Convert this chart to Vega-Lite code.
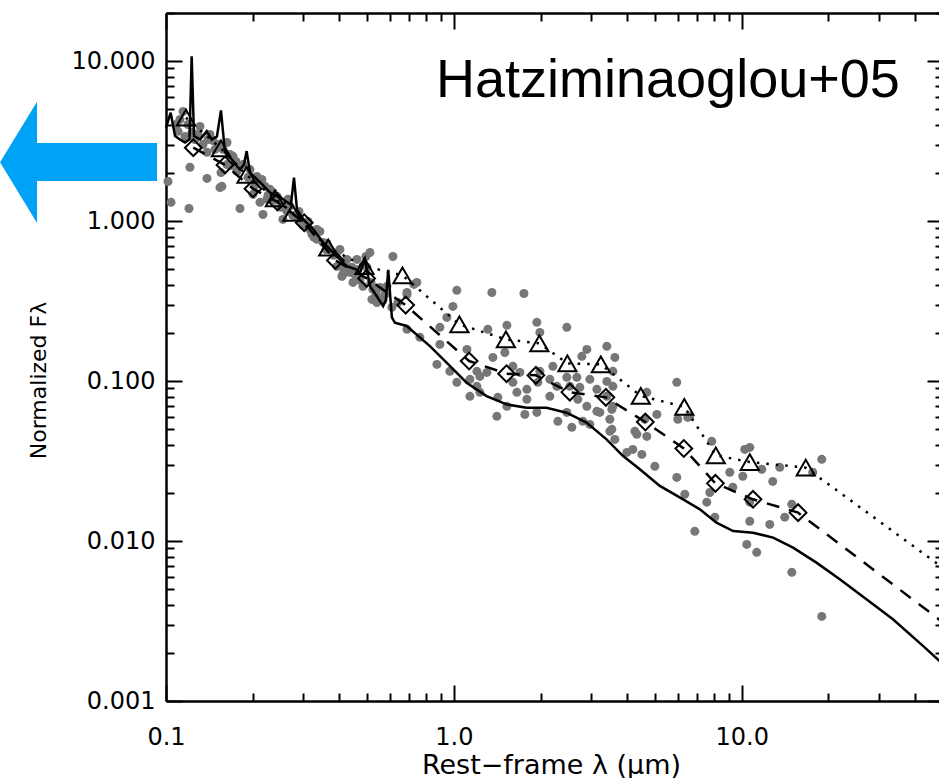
{
  "$schema": "https://vega.github.io/schema/vega-lite/v6.json",
  "width": 777,
  "height": 688,
  "autosize": {"type": "none"},
  "padding": {"left": 166, "top": 13, "right": 0, "bottom": 77},
  "background": "white",
  "config": {
    "view": {"stroke": null},
    "axis": {
      "domainColor": "black", "domainWidth": 2.5, "tickColor": "black", "tickWidth": 2,
      "grid": false, "labelFont": "DejaVu Sans", "labelFontSize": 24, "labelColor": "black",
      "labelFlush": false, "labelOverlap": false, "labelBound": false,
      "titleFont": "DejaVu Sans", "titleFontWeight": "normal", "titleColor": "black"
    }
  },
  "datasets": {
    "dots": [
      {"x":0.1146,"y":4.85},{"x":0.1118,"y":4.32},{"x":0.1192,"y":4.02},{"x":0.1312,"y":3.91},{"x":0.1421,"y":3.48},
      {"x":0.1456,"y":3.19},{"x":0.1388,"y":2.69},{"x":0.1211,"y":2.17},{"x":0.1552,"y":2.01},{"x":0.154,"y":1.62},
      {"x":0.1807,"y":1.20},{"x":0.1202,"y":1.20},{"x":0.1016,"y":1.77},{"x":0.1041,"y":1.31},{"x":0.2172,"y":1.10},
      {"x":0.2547,"y":1.025},{"x":0.1709,"y":2.54},{"x":0.1629,"y":2.26},{"x":0.2154,"y":1.82},{"x":0.2005,"y":1.47},
      {"x":0.2242,"y":1.37},{"x":0.2121,"y":1.31},{"x":0.1388,"y":1.85},{"x":0.1564,"y":1.65},{"x":0.1629,"y":3.10},
      {"x":0.1764,"y":2.05},{"x":0.207,"y":1.90},{"x":0.2297,"y":1.58},{"x":0.2429,"y":1.43},{"x":0.1083,"y":4.02},
      {"x":0.1261,"y":3.24},{"x":0.148,"y":2.81},{"x":0.1694,"y":2.23},{"x":0.1927,"y":1.88},{"x":0.2037,"y":1.67},
      {"x":0.2353,"y":1.51},{"x":0.2569,"y":1.25},{"x":0.2696,"y":1.24},{"x":0.2828,"y":1.085},{"x":0.2919,"y":1.025},
      {"x":0.3162,"y":0.887},{"x":0.3344,"y":0.769},{"x":0.3509,"y":0.736},{"x":0.3711,"y":0.665},{"x":0.3925,"y":0.637},
      {"x":0.3925,"y":0.521},{"x":0.4084,"y":0.451},{"x":0.4355,"y":0.478},{"x":0.4461,"y":0.414},{"x":0.4831,"y":0.391},
      {"x":0.5109,"y":0.637},{"x":0.4948,"y":0.601},{"x":0.614,"y":0.601},{"x":0.5233,"y":0.374},{"x":0.5192,"y":0.324},
      {"x":0.5404,"y":0.310},{"x":0.6871,"y":0.358},{"x":0.7436,"y":0.414},{"x":0.4251,"y":0.576},{"x":0.3344,"y":0.887},
      {"x":0.4605,"y":0.576},{"x":0.3213,"y":0.826},{"x":0.3594,"y":0.665},{"x":0.4183,"y":0.536},{"x":0.4642,"y":0.499},
      {"x":0.5535,"y":0.385},{"x":0.5761,"y":0.348},{"x":0.3038,"y":0.954},{"x":0.2632,"y":1.15},{"x":0.6871,"y":0.348},
      {"x":1.024,"y":0.369},{"x":0.992,"y":0.293},{"x":0.9456,"y":0.250},{"x":0.6871,"y":0.2105},{"x":0.7616,"y":0.1876},
      {"x":0.894,"y":0.1696},{"x":0.873,"y":0.1271},{"x":0.9685,"y":0.115},{"x":1.11,"y":0.1578},{"x":1.137,"y":0.0803},
      {"x":1.231,"y":0.107},{"x":1.202,"y":0.0927},{"x":0.5535,"y":0.324},{"x":0.4117,"y":0.4645},{"x":1.355,"y":0.358},
      {"x":1.751,"y":0.353},{"x":0.7263,"y":0.402},{"x":0.894,"y":0.2167},{"x":1.312,"y":0.2105},{"x":1.528,"y":0.223},
      {"x":1.942,"y":0.233},{"x":1.989,"y":0.2015},{"x":2.468,"y":0.2167},{"x":2.896,"y":0.1578},{"x":3.398,"y":0.1648},
      {"x":3.624,"y":0.1406},{"x":1.503,"y":0.151},{"x":1.603,"y":0.1236},{"x":1.366,"y":0.1406},{"x":1.302,"y":0.1133},
      {"x":1.202,"y":0.115},{"x":1.231,"y":0.0850},{"x":1.024,"y":0.0982},{"x":1.137,"y":0.1025},{"x":1.421,"y":0.0791},
      {"x":1.528,"y":0.0695},{"x":1.41,"y":0.0602},{"x":1.793,"y":0.0769},{"x":1.655,"y":0.0850},{"x":1.942,"y":0.0637},
      {"x":2.154,"y":0.0803},{"x":2.279,"y":0.0927},{"x":2.154,"y":0.1025},{"x":1.957,"y":0.0982},{"x":1.793,"y":0.0888},
      {"x":1.603,"y":0.0982},{"x":1.695,"y":0.1133},{"x":1.989,"y":0.115},{"x":2.207,"y":0.1236},{"x":2.674,"y":0.1055},
      {"x":2.468,"y":0.1055},{"x":2.738,"y":0.0914},{"x":2.967,"y":0.1025},{"x":3.138,"y":0.0888},{"x":3.566,"y":0.0927},
      {"x":3.398,"y":0.0803},{"x":3.566,"y":0.115},{"x":3.138,"y":0.0647},{"x":2.896,"y":0.0695},{"x":2.695,"y":0.0769},
      {"x":2.468,"y":0.0637},{"x":2.297,"y":0.056},{"x":2.569,"y":0.0514},{"x":2.805,"y":0.056},{"x":2.967,"y":0.0536},
      {"x":3.481,"y":0.0577},{"x":3.481,"y":0.0485},{"x":3.624,"y":0.0432},{"x":3.988,"y":0.0358},{"x":4.253,"y":0.0485},
      {"x":4.605,"y":0.0577},{"x":4.679,"y":0.0451},{"x":5.07,"y":0.0619},{"x":5.946,"y":0.0982},{"x":3.566,"y":0.0695},
      {"x":6.597,"y":0.0602},{"x":1.764,"y":0.0619},{"x":2.528,"y":0.0927},{"x":2.783,"y":0.1427},{"x":3.213,"y":0.0637},
      {"x":3.398,"y":0.0995},{"x":3.537,"y":0.0665},{"x":3.537,"y":0.0499},{"x":4.184,"y":0.0374},{"x":4.496,"y":0.0348},
      {"x":4.32,"y":0.0465},{"x":4.679,"y":0.0850},{"x":4.989,"y":0.0293},{"x":5.995,"y":0.0577},{"x":6.494,"y":0.0593},
      {"x":5.946,"y":0.025},{"x":6.34,"y":0.0196},{"x":6.869,"y":0.0115},{"x":7.557,"y":0.0175},{"x":7.865,"y":0.042},
      {"x":7.743,"y":0.0201},{"x":8.059,"y":0.0141},{"x":9.085,"y":0.0269},{"x":9.307,"y":0.0217},{"x":10.08,"y":0.0254},
      {"x":10.24,"y":0.0374},{"x":10.66,"y":0.0385},{"x":11.73,"y":0.0281},{"x":12.81,"y":0.0236},{"x":13.55,"y":0.0289},
      {"x":10.41,"y":0.00953},{"x":11.27,"y":0.0085},{"x":10.66,"y":0.0133},{"x":12.51,"y":0.0127},{"x":14.1,"y":0.0141},
      {"x":14.92,"y":0.017},{"x":14.92,"y":0.00637},{"x":18.96,"y":0.00338},{"x":18.96,"y":0.0324},{"x":17.64,"y":0.0269},
      {"x":10.66,"y":0.0175},
      {"x":0.1101,"y":3.64},{"x":0.1164,"y":3.38},{"x":0.1231,"y":3.58},{"x":0.1292,"y":3.48},{"x":0.1344,"y":3.01},
      {"x":0.1399,"y":3.24},{"x":0.1516,"y":3.01},{"x":0.1577,"y":2.81},{"x":0.1668,"y":2.61},{"x":0.175,"y":2.36},
      {"x":0.1851,"y":2.26},{"x":0.1958,"y":2.10},{"x":0.2087,"y":1.77},{"x":0.2207,"y":1.65},{"x":0.2261,"y":1.45},
      {"x":0.239,"y":1.35},{"x":0.2507,"y":1.22},{"x":0.2652,"y":1.37},{"x":0.2761,"y":1.085},{"x":0.2896,"y":1.15},
      {"x":0.2990,"y":0.940},{"x":0.3112,"y":0.996},{"x":0.3266,"y":0.791},{"x":0.3424,"y":0.862},{"x":0.3623,"y":0.726},
      {"x":0.3831,"y":0.611},{"x":0.4018,"y":0.665},{"x":0.415,"y":0.499},{"x":0.4424,"y":0.514},{"x":0.4532,"y":0.4645},
      {"x":0.4717,"y":0.426},{"x":0.4988,"y":0.514},{"x":0.5151,"y":0.414},{"x":0.5361,"y":0.353},{"x":0.567,"y":0.319},
      {"x":0.5854,"y":0.391},{"x":0.609,"y":0.289},{"x":0.6392,"y":0.310}
    ],
    "solid": [
      {"x":0.1,"y":3.84},{"x":0.1038,"y":4.76},{"x":0.1075,"y":3.40},{"x":0.1118,"y":3.24},{"x":0.1164,"y":3.10},
      {"x":0.1207,"y":3.24},{"x":0.1228,"y":10.74},{"x":0.1251,"y":3.40},{"x":0.1313,"y":3.24},{"x":0.1385,"y":3.65},
      {"x":0.1441,"y":3.24},{"x":0.1503,"y":3.38},{"x":0.1552,"y":4.92},{"x":0.1603,"y":2.69},{"x":0.169,"y":2.43},
      {"x":0.1807,"y":2.10},{"x":0.1866,"y":2.26},{"x":0.1906,"y":2.74},{"x":0.1958,"y":2.01},{"x":0.2121,"y":1.75},
      {"x":0.2297,"y":1.51},{"x":0.2547,"y":1.37},{"x":0.2716,"y":1.27},{"x":0.2783,"y":1.87},{"x":0.2851,"y":1.18},
      {"x":0.2997,"y":1.025},{"x":0.3248,"y":0.888},{"x":0.3517,"y":0.733},{"x":0.381,"y":0.635},{"x":0.4018,"y":0.576},
      {"x":0.4241,"y":0.523},{"x":0.457,"y":0.499},{"x":0.4717,"y":0.476},{"x":0.491,"y":0.576},{"x":0.5109,"y":0.393},
      {"x":0.539,"y":0.34},{"x":0.568,"y":0.294},{"x":0.5808,"y":0.324},{"x":0.5914,"y":0.495},{"x":0.609,"y":0.25},
      {"x":0.6237,"y":0.232},{"x":0.6854,"y":0.221},{"x":0.8255,"y":0.1655},{"x":0.9434,"y":0.1303},{"x":1.107,"y":0.0977},
      {"x":1.299,"y":0.0806},{"x":1.524,"y":0.0715},{"x":1.788,"y":0.0682},{"x":2.098,"y":0.0682},{"x":2.462,"y":0.0634},
      {"x":2.889,"y":0.055},{"x":3.39,"y":0.0432},{"x":3.871,"y":0.034},{"x":4.424,"y":0.0281},{"x":5.193,"y":0.0221},
      {"x":6.255,"y":0.01823},{"x":7.149,"y":0.01578},{"x":8.17,"y":0.01303},{"x":9.333,"y":0.01155},{"x":10.94,"y":0.01128},
      {"x":12.85,"y":0.0105},{"x":15.07,"y":0.0091},{"x":18.17,"y":0.00733},{"x":21.9,"y":0.00577},{"x":27.1,"y":0.00432},
      {"x":33.5,"y":0.00324},{"x":42.6,"y":0.00221},{"x":50,"y":0.0017}
    ],
    "dashed": [
      {"x":0.1244,"y":2.877,"m":1},{"x":0.1603,"y":2.245,"m":1},{"x":0.2005,"y":1.594,"m":1},{"x":0.2438,"y":1.318,"m":1},
      {"x":0.3021,"y":0.977,"m":1},{"x":0.3877,"y":0.568,"m":1},{"x":0.4977,"y":0.4385,"m":1},{"x":0.6799,"y":0.2985,"m":1},
      {"x":1.130,"y":0.1334,"m":1},{"x":1.524,"y":0.1112,"m":1},{"x":1.927,"y":0.1086,"m":1},{"x":2.528,"y":0.0853,"m":1},
      {"x":3.372,"y":0.0791,"m":1},{"x":4.623,"y":0.0555,"m":1},{"x":6.29,"y":0.0379,"m":1},{"x":8.10,"y":0.02294,"m":1},
      {"x":10.94,"y":0.01823,"m":1},{"x":15.69,"y":0.01505,"m":1},{"x":50,"y":0.0031,"m":0}
    ],
    "dotted": [
      {"x":0.1173,"y":4.43,"m":1},{"x":0.1552,"y":2.845,"m":1},{"x":0.1904,"y":1.945,"m":1},{"x":0.2390,"y":1.387,"m":1},
      {"x":0.2749,"y":1.125,"m":1},{"x":0.366,"y":0.682,"m":1},{"x":0.4890,"y":0.5236,"m":1},{"x":0.6627,"y":0.458,"m":1},
      {"x":1.045,"y":0.2262,"m":1},{"x":1.516,"y":0.1823,"m":1},{"x":1.981,"y":0.172,"m":1},{"x":2.479,"y":0.129,"m":1},
      {"x":3.239,"y":0.1271,"m":1},{"x":4.459,"y":0.0808,"m":1},{"x":6.314,"y":0.069,"m":1},{"x":8.122,"y":0.03434,"m":1},
      {"x":10.66,"y":0.03119,"m":1},{"x":16.68,"y":0.02875,"m":1},{"x":50,"y":0.0068,"m":0}
    ],
    "label": [{"x":35.4,"y":6.0,"t":"Hatziminaoglou+05"}],
    "arrow": [{"x":0.04968,"y":2.33}]
  },
  "resolve": {"axis": {"x": "independent", "y": "independent"}},
  "layer": [
    {
      "data": {"name": "dots"},
      "mark": {"type": "point", "shape": "circle", "filled": true, "size": 81, "color": "#777777", "opacity": 1, "strokeWidth": 0},
      "encoding": {
        "x": {"field": "x", "type": "quantitative",
          "scale": {"type": "log", "domain": [0.1, 50], "nice": false},
          "axis": {"orient": "bottom",
            "values": [0.1,0.2,0.3,0.4,0.5,0.6,0.7,0.8,0.9,1,2,3,4,5,6,7,8,9,10,20,30,40,50],
            "labelExpr": "datum.value == 0.1 ? '0.1' : datum.value == 1 ? '1.0' : datum.value == 10 ? '10.0' : ''",
            "tickSize": {"condition": {"test": "datum.value == 0.1 || datum.value == 1 || datum.value == 10", "value": -16}, "value": -8},
            "labelPadding": 40, "labelAlign": "center", "labelBaseline": "top",
            "title": "Rest−frame λ (μm)", "titleFontSize": 27, "titleX": 385, "titleY": 72,
            "titleAlign": "center", "titleBaseline": "alphabetic"}},
        "y": {"field": "y", "type": "quantitative",
          "scale": {"type": "log", "domain": [0.001, 20], "nice": false},
          "axis": {"orient": "left",
            "values": [0.001,0.002,0.003,0.004,0.005,0.006,0.007,0.008,0.009,0.01,0.02,0.03,0.04,0.05,0.06,0.07,0.08,0.09,0.1,0.2,0.3,0.4,0.5,0.6,0.7,0.8,0.9,1,2,3,4,5,6,7,8,9,10,20],
            "labelExpr": "datum.value == 0.001 ? '0.001' : datum.value == 0.01 ? '0.010' : datum.value == 0.1 ? '0.100' : datum.value == 1 ? '1.000' : datum.value == 10 ? '10.000' : ''",
            "tickSize": {"condition": {"test": "datum.value == 0.001 || datum.value == 0.01 || datum.value == 0.1 || datum.value == 1 || datum.value == 10", "value": -16}, "value": -8},
            "labelPadding": 27, "labelAlign": "right", "labelBaseline": "middle",
            "title": "Normalized Fλ", "titleFontSize": 22, "titleAngle": 270, "titleX": -121, "titleY": 367,
            "titleAlign": "center", "titleBaseline": "alphabetic"}}
      }
    },
    {
      "data": {"name": "solid"},
      "mark": {"type": "line", "color": "black", "strokeWidth": 2.5, "interpolate": "linear"},
      "encoding": {
        "x": {"field": "x", "type": "quantitative",
          "scale": {"type": "log", "domain": [0.1, 50], "nice": false},
          "axis": {"orient": "top",
            "values": [0.1,0.2,0.3,0.4,0.5,0.6,0.7,0.8,0.9,1,2,3,4,5,6,7,8,9,10,20,30,40,50],
            "labels": false, "title": null,
            "tickSize": {"condition": {"test": "datum.value == 0.1 || datum.value == 1 || datum.value == 10", "value": -16}, "value": -8}}},
        "y": {"field": "y", "type": "quantitative",
          "scale": {"type": "log", "domain": [0.001, 20], "nice": false},
          "axis": {"orient": "right",
            "values": [0.001,0.002,0.003,0.004,0.005,0.006,0.007,0.008,0.009,0.01,0.02,0.03,0.04,0.05,0.06,0.07,0.08,0.09,0.1,0.2,0.3,0.4,0.5,0.6,0.7,0.8,0.9,1,2,3,4,5,6,7,8,9,10,20],
            "labels": false, "title": null,
            "tickSize": {"condition": {"test": "datum.value == 0.001 || datum.value == 0.01 || datum.value == 0.1 || datum.value == 1 || datum.value == 10", "value": -16}, "value": -8}}},
        "order": {"field": "x", "type": "quantitative"}
      }
    },
    {
      "data": {"name": "dashed"},
      "mark": {"type": "line", "color": "black", "strokeWidth": 2.5, "strokeDash": [13, 10]},
      "encoding": {
        "x": {"field": "x", "type": "quantitative", "scale": {"type": "log", "domain": [0.1, 50], "nice": false}, "axis": null},
        "y": {"field": "y", "type": "quantitative", "scale": {"type": "log", "domain": [0.001, 20], "nice": false}, "axis": null},
        "order": {"field": "x", "type": "quantitative"}
      }
    },
    {
      "data": {"name": "dotted"},
      "mark": {"type": "line", "color": "black", "strokeWidth": 2.5, "strokeDash": [2.5, 7]},
      "encoding": {
        "x": {"field": "x", "type": "quantitative", "scale": {"type": "log", "domain": [0.1, 50], "nice": false}, "axis": null},
        "y": {"field": "y", "type": "quantitative", "scale": {"type": "log", "domain": [0.001, 20], "nice": false}, "axis": null},
        "order": {"field": "x", "type": "quantitative"}
      }
    },
    {
      "data": {"name": "dashed"},
      "transform": [{"filter": "datum.m == 1"}],
      "mark": {"type": "point", "shape": "diamond", "filled": false, "size": 280, "color": "black", "strokeWidth": 2, "opacity": 1},
      "encoding": {
        "x": {"field": "x", "type": "quantitative", "scale": {"type": "log", "domain": [0.1, 50], "nice": false}, "axis": null},
        "y": {"field": "y", "type": "quantitative", "scale": {"type": "log", "domain": [0.001, 20], "nice": false}, "axis": null}
      }
    },
    {
      "data": {"name": "dotted"},
      "transform": [{"filter": "datum.m == 1"}],
      "mark": {"type": "point", "shape": "triangle-up", "filled": false, "size": 330, "color": "black", "strokeWidth": 2, "opacity": 1},
      "encoding": {
        "x": {"field": "x", "type": "quantitative", "scale": {"type": "log", "domain": [0.1, 50], "nice": false}, "axis": null},
        "y": {"field": "y", "type": "quantitative", "scale": {"type": "log", "domain": [0.001, 20], "nice": false}, "axis": null}
      }
    },
    {
      "data": {"name": "label"},
      "mark": {"type": "text", "font": "Liberation Sans", "fontSize": 54, "color": "black", "align": "right", "baseline": "alphabetic"},
      "encoding": {
        "x": {"field": "x", "type": "quantitative", "scale": {"type": "log", "domain": [0.1, 50], "nice": false}, "axis": null},
        "y": {"field": "y", "type": "quantitative", "scale": {"type": "log", "domain": [0.001, 20], "nice": false}, "axis": null},
        "text": {"field": "t"}
      }
    },
    {
      "data": {"name": "arrow"},
      "mark": {"type": "point", "shape": "M -1 0 L -0.529 -0.771 L -0.529 -0.248 L 1 -0.248 L 1 0.236 L -0.529 0.236 L -0.529 0.771 Z",
        "filled": true, "size": 24649, "color": "#00a2f6", "opacity": 1, "strokeWidth": 0},
      "encoding": {
        "x": {"field": "x", "type": "quantitative", "scale": {"type": "log", "domain": [0.1, 50], "nice": false}, "axis": null},
        "y": {"field": "y", "type": "quantitative", "scale": {"type": "log", "domain": [0.001, 20], "nice": false}, "axis": null}
      }
    }
  ]
}
